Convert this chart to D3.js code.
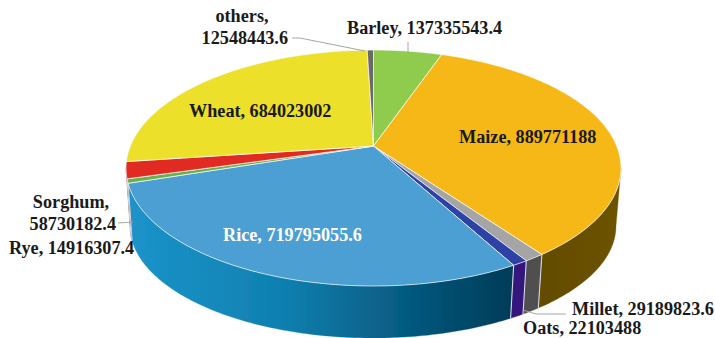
<!DOCTYPE html>
<html>
<head>
<meta charset="utf-8">
<script src="https://cdn.jsdelivr.net/npm/d3@7"></script>
<style>
html, body { margin: 0; padding: 0; background: #fff; }
svg { display: block; }
text { font-family: "Liberation Serif", serif; font-weight: bold; font-size: 18.2px; fill: #1a1a1a; }
</style>
</head>
<body>
<svg id="chart" width="715" height="338"></svg>
<script>
const categories = ["Barley", "Maize", "Millet", "Oats", "Rice", "Rye", "Sorghum", "Wheat", "others"]
const values = [137335543.4, 889771188, 29189823.6, 22103488, 719795055.6, 14916307.4, 58730182.4, 684023002, 12548443.6]
const topColors = ["#8fcb4e", "#f6b817", "#a5a5a5", "#2f43a6", "#4b9fd2", "#69b04a", "#e12c20", "#ece02c", "#6b6b6b"]
const wallColors = ["#5d8a2e", "#6b5100", "#505050", "#35157c", "#0a6c9b", "#3f7a2c", "#8e1a12", "#8d8614", "#444444"]

const width = 715, height = 338

// top face and the lower rim are separate ellipses, the pie is seen in perspective
const xTop = d3.scaleLinear().domain([-1, 1]).range([126, 621])
const yTop = d3.scaleLinear().domain([-1, 1]).range([286, 50])
const xBottom = d3.scaleLinear().domain([-1, 1]).range([130, 616])
const yBottom = d3.scaleLinear().domain([-1, 1]).range([338, 114])
const tilt = 0.186

const svg = d3.select("#chart").attr("viewBox", [0, 0, width, height])

const pie = d3.pie().sort(null).value(d => d)
const arcs = pie(values)

// moves a pie angle on the unit circle so the spokes meet at the raised apex
function project(a) {
    const u = Math.cos(a), s = Math.sin(a)
    const k = 1 + tilt * u
    return [s * Math.sqrt(1 - tilt * tilt) / k, (u + tilt) / k]
}
const rimTop = a => { const p = project(a); return [xTop(p[0]), yTop(p[1])] }
const rimBottom = a => { const p = project(a); return [xBottom(p[0]), yBottom(p[1])] }
const apex = [xTop(0), yTop(tilt)]

function sample(a0, a1) {
    const n = Math.max(2, Math.ceil((a1 - a0) * 60))
    return d3.range(n + 1).map(i => a0 + (a1 - a0) * i / n)
}
const line = d3.line().curve(d3.curveLinear)

const wallFrom = Math.PI / 2 + Math.asin(tilt)
const wallTo = Math.PI * 1.5 - Math.asin(tilt)

const defs = svg.append("defs")
const riceWall = defs.append("linearGradient").attr("id", "riceWall")
    .attr("gradientUnits", "userSpaceOnUse").attr("x1", 130).attr("x2", 512).attr("y1", 0).attr("y2", 0)
riceWall.append("stop").attr("offset", 0).attr("stop-color", "#1b93c9")
riceWall.append("stop").attr("offset", 0.4).attr("stop-color", "#0f80b0")
riceWall.append("stop").attr("offset", 0.75).attr("stop-color", "#05577c")
riceWall.append("stop").attr("offset", 1).attr("stop-color", "#003c57")
const maizeWall = defs.append("linearGradient").attr("id", "maizeWall")
    .attr("gradientUnits", "userSpaceOnUse").attr("x1", 540).attr("x2", 621).attr("y1", 0).attr("y2", 0)
maizeWall.append("stop").attr("offset", 0).attr("stop-color", "#634b00")
maizeWall.append("stop").attr("offset", 1).attr("stop-color", "#6d5300")
defs.append("filter").attr("id", "soft").append("feGaussianBlur").attr("stdDeviation", 0.45)

const pieGroup = svg.append("g").attr("filter", "url(#soft)")

// side walls, only the part facing the viewer
arcs.forEach((d, i) => {
    const a0 = Math.max(d.startAngle, wallFrom), a1 = Math.min(d.endAngle, wallTo)
    if (a1 <= a0) return
    const angles = sample(a0, a1)
    const pts = angles.map(rimTop).concat(angles.slice().reverse().map(rimBottom))
    const fill = categories[i] === "Rice" ? "url(#riceWall)" : categories[i] === "Maize" ? "url(#maizeWall)" : wallColors[i]
    pieGroup.append("path").attr("d", line(pts) + "Z")
        .attr("fill", fill)
        .attr("stroke", fill).attr("stroke-width", 0.3)
    // pale seam on the left edge of each wall piece
    if (a0 > wallFrom) {
        pieGroup.append("path").attr("d", line([rimTop(a0), rimBottom(a0)]))
            .attr("stroke", "#d5d8e6").attr("stroke-width", 1.1).attr("fill", "none")
    }
})

// top face
arcs.forEach((d, i) => {
    const pts = [apex].concat(sample(d.startAngle, d.endAngle).map(rimTop))
    pieGroup.append("path").attr("d", line(pts) + "Z")
        .attr("fill", topColors[i])
        .attr("stroke", "#fff").attr("stroke-opacity", 0.75).attr("stroke-width", 0.9)
        .attr("stroke-linejoin", "round")
})

// leader lines
const leaders = [
    [[292, 38], [300, 38], [365, 51]],
    [[408, 42], [408, 53]],
    [[118, 223], [133, 222]],
    [[566, 314], [536, 314], [523, 310]]
]
svg.append("g").selectAll("path").data(leaders).join("path")
    .attr("d", d => line(d))
    .attr("fill", "none").attr("stroke", "#a6a6a6").attr("stroke-width", 1)

// labels: one entry per category, text comes from the data arrays
const labelSpots = {
    Barley: { x: 347, y: 34, anchor: "start" },
    Maize: { x: 459, y: 143, anchor: "start" },
    Millet: { x: 572, y: 315, anchor: "start" },
    Oats: { x: 523, y: 334, anchor: "start" },
    Rice: { x: 223, y: 241, anchor: "start", fill: "#fff" },
    Rye: { x: 9, y: 254, anchor: "start" },
    Sorghum: { x: 116, y: 208, anchor: "end", wrap: true, midX: 71 },
    Wheat: { x: 189, y: 117, anchor: "start" },
    others: { x: 288, y: 22, anchor: "end", wrap: true, midX: 242 }
}
categories.forEach((c, i) => {
    const s = labelSpots[c]
    const t = svg.append("text").attr("x", s.x).attr("y", s.y).attr("text-anchor", s.anchor)
    if (s.fill) t.style("fill", s.fill)
    if (s.wrap) {
        t.append("tspan").attr("x", s.midX).attr("text-anchor", "middle").text(c + ",")
        t.append("tspan").attr("x", s.x).attr("dy", 21.5).text(values[i])
    } else {
        t.text(c + ", " + values[i])
    }
})
</script>
</body>
</html>
